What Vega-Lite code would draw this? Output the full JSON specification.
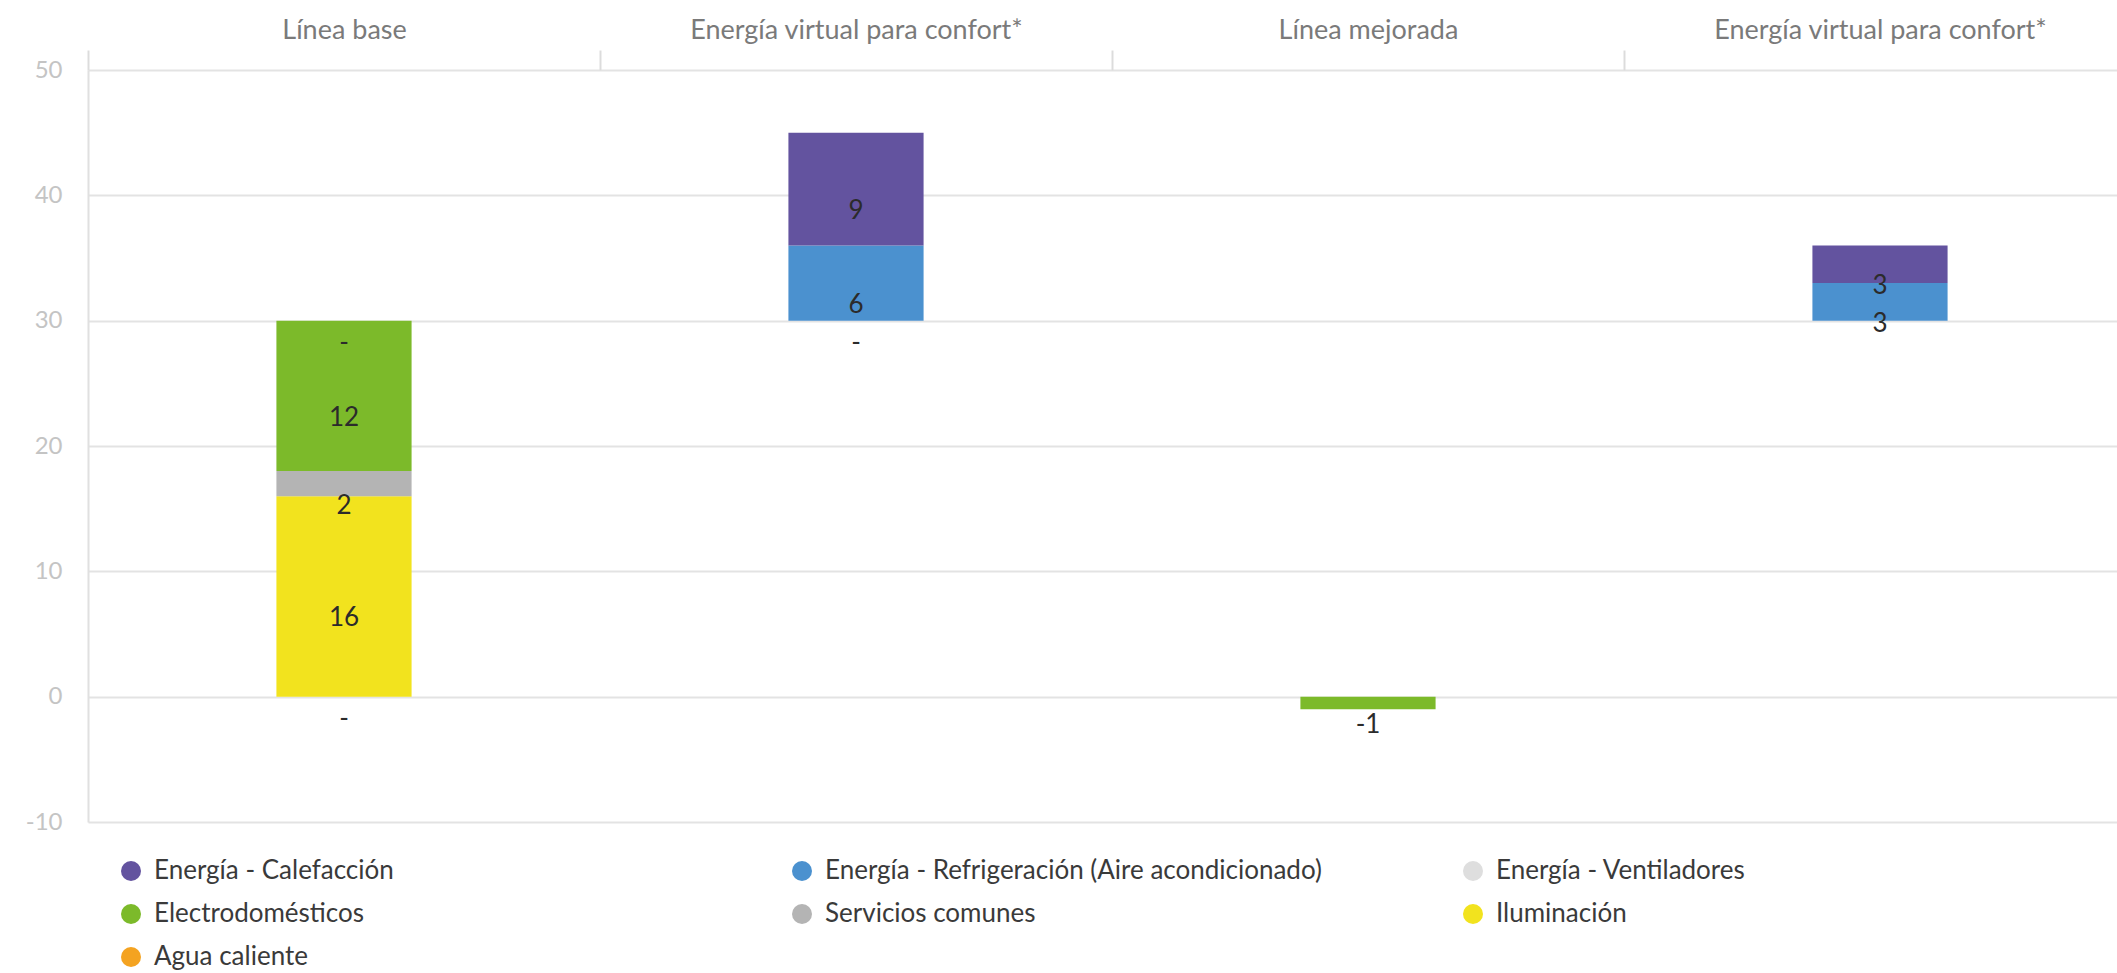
{
  "$schema": "https://vega.github.io/schema/vega-lite/v6.json",
  "autosize": {"type": "none"},
  "padding": {"left": 88, "top": 70, "right": 0, "bottom": 151},
  "width": 2029,
  "height": 752,
  "config": {"font": "Lato", "view": {"stroke": null}},
  "data": {
    "values": [
      {"paso": "p1", "categoria": "Agua caliente", "inicio": 0, "fin": 0, "etiqueta": "-"},
      {"paso": "p1", "categoria": "Iluminación", "inicio": 0, "fin": 16, "etiqueta": "16"},
      {"paso": "p1", "categoria": "Servicios comunes", "inicio": 16, "fin": 18, "etiqueta": "2"},
      {"paso": "p1", "categoria": "Electrodomésticos", "inicio": 18, "fin": 30, "etiqueta": "12"},
      {"paso": "p1", "categoria": "Energía - Ventiladores", "inicio": 30, "fin": 30, "etiqueta": "-"},
      {"paso": "p2", "categoria": "Energía - Ventiladores", "inicio": 30, "fin": 30, "etiqueta": "-"},
      {"paso": "p2", "categoria": "Energía - Refrigeración (Aire acondicionado)", "inicio": 30, "fin": 36, "etiqueta": "6"},
      {"paso": "p2", "categoria": "Energía - Calefacción", "inicio": 36, "fin": 45, "etiqueta": "9"},
      {"paso": "p3", "categoria": "Electrodomésticos", "inicio": 0, "fin": -1, "etiqueta": "-1"},
      {"paso": "p4", "categoria": "Energía - Refrigeración (Aire acondicionado)", "inicio": 30, "fin": 33, "etiqueta": "3"},
      {"paso": "p4", "categoria": "Energía - Calefacción", "inicio": 33, "fin": 36, "etiqueta": "3"}
    ]
  },
  "encoding": {
    "x": {
      "field": "paso",
      "type": "nominal",
      "title": null,
      "scale": {"domain": ["p1", "p2", "p3", "p4"], "range": [0, 2048], "paddingInner": 0, "paddingOuter": 0},
      "axis": {
        "orient": "top",
        "domain": false,
        "grid": false,
        "ticks": true,
        "tickBand": "extent",
        "tickSize": 20,
        "tickColor": "#dcdcdc",
        "tickWidth": 2,
        "labelAngle": 0,
        "labelFontSize": 27,
        "labelColor": "#7a7a7a",
        "labelPadding": 6,
        "labelLimit": 1000,
        "labelExpr": "{'p1': 'Línea base', 'p2': 'Energía virtual para confort*', 'p3': 'Línea mejorada', 'p4': 'Energía virtual para confort*'}[datum.value]"
      }
    }
  },
  "layer": [
    {
      "mark": {"type": "bar", "width": {"band": 0.264}},
      "encoding": {
        "y": {
          "field": "inicio",
          "type": "quantitative",
          "title": null,
          "scale": {"domain": [-10, 50], "nice": false, "zero": false},
          "axis": {
            "values": [-10, 0, 10, 20, 30, 40, 50],
            "labelExpr": "replace(datum.label, '−', '-')",
            "grid": true,
            "gridColor": "#e3e3e3",
            "gridWidth": 2,
            "domain": true,
            "domainColor": "#e0e0e0",
            "domainWidth": 2,
            "ticks": false,
            "labelFontSize": 24,
            "labelColor": "#c4c4c4",
            "labelPadding": 26
          }
        },
        "y2": {"field": "fin"},
        "color": {
          "field": "categoria",
          "type": "nominal",
          "scale": {
            "domain": ["Energía - Calefacción", "Energía - Refrigeración (Aire acondicionado)", "Energía - Ventiladores", "Electrodomésticos", "Servicios comunes", "Iluminación", "Agua caliente"],
            "range": ["#63539f", "#4b91cf", "#dedede", "#7cba2a", "#b4b4b4", "#f2e31e", "#f4a321"]
          },
          "legend": {
            "title": null,
            "orient": "none",
            "legendX": 30,
            "legendY": 788,
            "direction": "horizontal",
            "columns": 3,
            "gridAlign": "all",
            "symbolType": "circle",
            "symbolSize": 400,
            "symbolStrokeWidth": 0,
            "labelFontSize": 26,
            "labelColor": "#3a3a3a",
            "labelLimit": 1000,
            "labelOffset": 10,
            "columnPadding": 138,
            "rowPadding": 17,
            "padding": 0
          }
        }
      }
    },
    {
      "transform": [{"calculate": "(datum.inicio + datum.fin) / 2", "as": "medio"}],
      "mark": {"type": "text", "dy": 22, "fontSize": 26, "color": "#2b2b2b", "baseline": "middle"},
      "encoding": {
        "y": {"field": "medio", "type": "quantitative", "title": null},
        "text": {"field": "etiqueta"}
      }
    }
  ]
}
